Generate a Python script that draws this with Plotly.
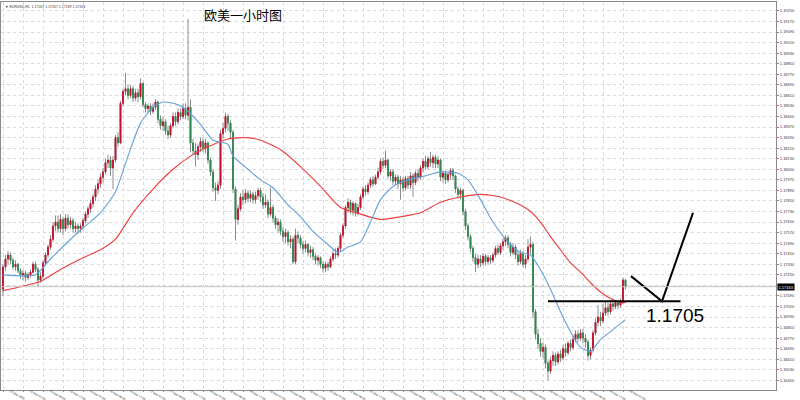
import plotly.graph_objects as go

# ---------------- data (EURUSD H1) ----------------
FIRST_OPEN = 1.1714
CLOSE = [
    1.1731,1.1737,1.1740,1.1736,1.1731,1.1733,1.1728,1.1725,1.1726,1.1723,1.1725,1.1727,1.1733,1.1729,1.1721,1.1724,
    1.1734,1.1740,1.1746,1.1752,1.1762,1.1765,
    1.1760,1.1767,1.1760,1.1768,1.1763,1.1766,1.1760,1.1762,1.1760,1.1762,1.1766,
    1.1771,1.1775,1.1779,1.1784,1.1790,1.1794,1.1799,1.1803,1.1810,1.1812,1.1806,1.1812,
    1.1829,1.1825,1.1855,1.1864,1.1866,
    1.1861,1.1866,1.1859,1.1863,1.1860,1.1870,
    1.1854,1.1851,1.1853,1.1849,1.1852,1.1856,1.1843,1.1838,
    1.1841,1.1834,1.1831,1.1838,1.1845,1.1841,1.1848,1.1845,1.1851,1.1846,
    1.1852,1.1825,1.1819,1.1816,1.1822,1.1826,1.1821,1.1825,
    1.1812,1.1803,1.1791,1.1789,1.1793,
    1.1832,1.1836,1.1845,1.1840,1.1833,
    1.1790,1.1767,1.1775,1.1784,1.1782,
    1.1787,1.1783,1.1786,1.1782,1.1785,1.1789,1.1784,
    1.1778,1.1780,
    1.1771,1.1776,1.1768,1.1763,1.1765,1.1758,
    1.1754,1.1757,1.1750,1.1752,1.1735,
    1.1755,1.1753,
    1.1748,1.1745,1.1748,1.1742,1.1744,1.1739,
    1.1736,1.1738,1.1733,1.1730,1.1733,1.1731,
    1.1737,1.1741,1.1740,1.1745,
    1.1755,1.1762,
    1.1776,1.1780,1.1774,
    1.1779,1.1772,1.1776,
    1.1784,1.1790,1.1788,1.1793,
    1.1797,1.1794,1.1799,
    1.1803,1.1811,1.1808,1.1812,
    1.1800,1.1803,1.1796,1.1799,
    1.1794,1.1797,1.1791,1.1798,1.1793,
    1.1800,1.1795,1.1802,1.1799,
    1.1806,1.1811,1.1807,1.1813,1.1810,1.1814,1.1809,1.1812,
    1.1799,1.1802,
    1.1797,1.1801,1.1804,1.1800,
    1.1790,1.1786,1.1789,
    1.1773,1.1762,1.1754,
    1.1745,1.1738,1.1733,1.1737,
    1.1734,1.1739,1.1735,1.1738,1.1736,1.1740,
    1.1745,1.1742,1.1747,1.1750,
    1.1753,1.1748,1.1742,1.1746,
    1.1740,1.1735,1.1741,1.1733,1.1737,
    1.1746,1.1748,
    1.1697,
    1.1680,1.1673,
    1.1667,1.1670,
    1.1658,1.1652,1.1660,
    1.1664,1.1659,1.1665,1.1662,
    1.1669,1.1666,1.1673,1.1670,
    1.1676,1.1680,1.1677,1.1681,
    1.1677,1.1674,1.1664,1.1668,
    1.1681,1.1689,
    1.1693,1.1690,1.1696,
    1.1700,1.1697,1.1703,
    1.1701,1.1704,1.1702,1.1705,
    1.1721,1.1716,
]
HIGH = [
    1.1733,1.1740,1.1743,1.1742,1.1738,1.1736,1.1734,1.1730,1.1729,1.1728,1.1727,1.1729,1.1735,1.1735,1.1731,1.1727,
    1.1736,1.1742,1.1748,1.1755,1.1765,1.1770,
    1.1770,1.1771,1.1769,1.1771,1.1771,1.1769,1.1768,1.1765,1.1764,1.1764,1.1768,
    1.1773,1.1777,1.1782,1.1786,1.1793,1.1797,1.1802,1.1806,1.1813,1.1816,1.1815,1.1815,
    1.1831,1.1833,1.1857,1.1866,1.1878,
    1.1869,1.1869,1.1868,1.1866,1.1866,1.1874,
    1.1871,1.1856,1.1855,1.1855,1.1855,1.1858,1.1857,1.1846,
    1.1845,1.1843,1.1838,1.1840,1.1848,1.1848,1.1851,1.1851,1.1855,1.1855,
    1.1919,1.1858,1.1828,1.1825,1.1824,1.1829,1.1829,1.1828,
    1.1826,1.1814,1.1805,1.1795,1.1796,
    1.1835,1.1840,1.1848,1.1847,1.1842,
    1.1835,1.1792,1.1778,1.1787,1.1789,
    1.1790,1.1789,1.1789,1.1788,1.1788,1.1791,1.1791,
    1.1787,1.1786,
    1.1782,1.1791,1.1778,1.1770,1.1768,1.1767,
    1.1761,1.1760,1.1759,1.1755,1.1754,
    1.1760,1.1758,
    1.1755,1.1751,1.1751,1.1749,1.1747,1.1746,
    1.1741,1.1740,1.1739,1.1735,1.1735,1.1735,
    1.1739,1.1744,1.1745,1.1747,
    1.1757,1.1764,
    1.1778,1.1783,1.1782,
    1.1781,1.1780,1.1779,
    1.1786,1.1792,1.1793,1.1795,
    1.1799,1.1800,1.1801,
    1.1806,1.1813,1.1814,1.1819,
    1.1813,1.1805,1.1805,1.1801,
    1.1801,1.1800,1.1799,1.1800,1.1800,
    1.1803,1.1802,1.1804,1.1805,
    1.1808,1.1813,1.1815,1.1815,1.1818,1.1816,1.1816,1.1815,
    1.1813,1.1804,
    1.1804,1.1803,1.1806,1.1806,
    1.1801,1.1792,1.1791,
    1.1790,1.1775,1.1764,
    1.1756,1.1747,1.1741,1.1740,
    1.1740,1.1741,1.1741,1.1740,1.1740,1.1742,
    1.1747,1.1748,1.1749,1.1753,
    1.1755,1.1755,1.1750,1.1749,
    1.1748,1.1743,1.1744,1.1743,1.1740,
    1.1752,1.1754,
    1.1750,
    1.1699,1.1684,
    1.1677,1.1674,
    1.1672,1.1660,1.1663,
    1.1667,1.1666,1.1667,1.1668,
    1.1672,1.1673,1.1675,1.1676,
    1.1679,1.1683,1.1683,1.1684,
    1.1684,1.1680,1.1676,1.1670,
    1.1683,1.1692,
    1.1702,1.1697,1.1703,
    1.1705,1.1704,1.1706,
    1.1707,1.1706,1.1706,1.1707,
    1.1723,1.1722,
]
LOW = [
    1.1709,1.1728,1.1733,1.1733,1.1729,1.1728,1.1726,1.1722,1.1721,1.1720,1.1721,1.1723,1.1726,1.1727,1.1716,1.1719,
    1.1722,1.1732,1.1738,1.1744,1.1750,1.1758,
    1.1757,1.1757,1.1755,1.1758,1.1760,1.1760,1.1757,1.1757,1.1756,1.1757,1.1759,
    1.1764,1.1768,1.1772,1.1776,1.1781,1.1786,1.1791,1.1795,1.1801,1.1806,1.1800,1.1790,
    1.1810,1.1822,1.1824,1.1853,1.1861,
    1.1858,1.1859,1.1856,1.1857,1.1856,1.1858,
    1.1852,1.1848,1.1848,1.1846,1.1847,1.1850,1.1840,1.1835,
    1.1834,1.1831,1.1828,1.1829,1.1836,1.1838,1.1839,1.1842,1.1843,1.1843,
    1.1842,1.1818,1.1816,1.1807,1.1812,1.1818,1.1818,1.1817,
    1.1809,1.1800,1.1788,1.1781,1.1786,
    1.1790,1.1828,1.1833,1.1834,1.1828,
    1.1787,1.1751,1.1763,1.1773,1.1778,
    1.1779,1.1780,1.1780,1.1779,1.1779,1.1782,1.1780,
    1.1775,1.1776,
    1.1768,1.1769,1.1765,1.1760,1.1757,1.1755,
    1.1750,1.1749,1.1747,1.1745,1.1733,
    1.1733,1.1749,
    1.1745,1.1741,1.1742,1.1739,1.1738,1.1736,
    1.1733,1.1732,1.1730,1.1727,1.1727,1.1728,
    1.1730,1.1735,1.1737,1.1738,
    1.1743,1.1753,
    1.1760,1.1772,1.1771,
    1.1770,1.1769,1.1770,
    1.1774,1.1782,1.1785,1.1786,
    1.1791,1.1792,1.1793,
    1.1797,1.1801,1.1805,1.1806,
    1.1798,1.1796,1.1793,1.1793,
    1.1790,1.1782,1.1788,1.1789,1.1790,
    1.1790,1.1784,1.1793,1.1796,
    1.1797,1.1803,1.1805,1.1805,1.1807,1.1806,1.1806,1.1806,
    1.1796,1.1795,
    1.1794,1.1795,1.1797,1.1797,
    1.1787,1.1783,1.1782,
    1.1770,1.1759,1.1751,
    1.1742,1.1735,1.1727,1.1730,
    1.1731,1.1732,1.1732,1.1733,1.1733,1.1734,
    1.1738,1.1740,1.1740,1.1744,
    1.1747,1.1745,1.1739,1.1740,
    1.1737,1.1732,1.1733,1.1731,1.1730,
    1.1735,1.1741,
    1.1692,
    1.1676,1.1669,
    1.1663,1.1662,
    1.1654,1.1645,1.1650,
    1.1656,1.1656,1.1657,1.1659,
    1.1660,1.1663,1.1664,1.1667,
    1.1668,1.1674,1.1674,1.1675,
    1.1673,1.1670,1.1660,1.1661,
    1.1666,1.1679,
    1.1686,1.1686,1.1688,
    1.1694,1.1694,1.1695,
    1.1698,1.1699,1.1699,1.1700,
    1.1703,1.1714,
]
# each bar opens where the previous one closed
OPEN = [FIRST_OPEN] + CLOSE[:-1]

# moving averages read at anchor bars
MA_FAST_BARS = [0,13,19,31,39,45,50,55,60,64,70,74,79,84,90,92,98,103,108,114,119,124,130,134,138,143,147,151,156,162,167,175,182,186,191,196,202,207,211,215,219,223,227,231,235,239,243,249]
MA_FAST = [1.1725,1.1725,1.1737,1.1759,1.1772,1.1788,1.1815,1.1840,1.1852,1.1856,1.1854,1.1849,1.1839,1.1827,1.1824,1.1815,1.1805,1.1797,1.1791,1.1778,1.1769,1.1758,1.1748,1.1742,1.1746,1.1750,1.1765,1.1782,1.1792,1.1797,1.1799,1.1803,1.1802,1.1797,1.1782,1.1765,1.1750,1.1742,1.1740,1.1729,1.1714,1.1697,1.1682,1.1670,1.1667,1.1676,1.1682,1.1691]
MA_SLOW_BARS = [0,7,15,23,31,39,45,52,60,68,75,82,90,98,103,111,119,127,135,143,151,159,167,175,183,191,199,207,211,215,219,223,227,231,235,239,243,247,249]
MA_SLOW = [1.1713,1.1716,1.1720,1.1729,1.1737,1.1744,1.1752,1.1772,1.1790,1.1805,1.1815,1.1822,1.1828,1.1829,1.1827,1.1820,1.1807,1.1792,1.1776,1.1771,1.1767,1.1769,1.1772,1.1780,1.1784,1.1786,1.1784,1.1778,1.1773,1.1765,1.1754,1.1744,1.1734,1.1727,1.1719,1.1712,1.1707,1.1704,1.1704]

TICK_BARS = [0,8,16,24,32,40,48,56,64,72,80,88,96,104,112,120,128,136,144,152,160,168,176,184,192,200,208,216,224,232,240,248]
TICK_TEXT = ["12 Sep 2025","15 Sep 01:00","15 Sep 09:00","15 Sep 17:00","16 Sep 01:00","16 Sep 09:00","16 Sep 17:00",
             "17 Sep 01:00","17 Sep 09:00","17 Sep 17:00","18 Sep 01:00","18 Sep 09:00","18 Sep 17:00",
             "19 Sep 01:00","19 Sep 09:00","19 Sep 17:00","22 Sep 01:00","22 Sep 09:00","22 Sep 17:00",
             "23 Sep 01:00","23 Sep 09:00","23 Sep 17:00","24 Sep 01:00","24 Sep 09:00","24 Sep 17:00",
             "25 Sep 01:00","25 Sep 09:00","25 Sep 17:00","26 Sep 01:00","26 Sep 09:00","26 Sep 17:00","29 Sep 01:00"]

LEVEL = 1.1705
LEVEL_LABEL = "1.1705"
LEVEL_BARS = [218, 271]
PATH_BARS = [251.2, 263.6, 276.0]
PATH_PRICES = [1.1724, 1.1705, 1.1772]
TITLE = "欧美一小时图"
HEADER = "▼ EURUSD,H1  1.17207 1.17207 1.17139 1.17163"
LAST_PRICE_TEXT = "1.17163"

for name, arr in (("HIGH", HIGH), ("LOW", LOW)):
    if len(arr) != len(CLOSE):
        raise SystemExit(f"{name} has {len(arr)} values, CLOSE has {len(CLOSE)}")

BARS = list(range(len(CLOSE)))
UP = "#c8102e"
DOWN = "#2e8b4e"
WICK = "#8c8c8c"

body_hi = [max(o, c) for o, c in zip(OPEN, CLOSE)]
body_lo = [min(o, c) for o, c in zip(OPEN, CLOSE)]

fig = go.Figure()
# wicks
fig.add_trace(go.Candlestick(
    x=BARS, open=OPEN, high=HIGH, low=LOW, close=CLOSE,
    increasing=dict(line=dict(color=WICK, width=1), fillcolor=WICK),
    decreasing=dict(line=dict(color=WICK, width=1), fillcolor=WICK),
    whiskerwidth=0, hoverinfo="skip"))
# bodies
fig.add_trace(go.Candlestick(
    x=BARS, open=OPEN, high=body_hi, low=body_lo, close=CLOSE,
    increasing=dict(line=dict(color=UP, width=0.8), fillcolor=UP),
    decreasing=dict(line=dict(color=DOWN, width=0.8), fillcolor=DOWN),
    whiskerwidth=0))
fig.add_trace(go.Scatter(x=MA_SLOW_BARS, y=MA_SLOW, mode="lines",
                         line=dict(color="#f03a3a", width=1.1, shape="spline", smoothing=0.6)))
fig.add_trace(go.Scatter(x=MA_FAST_BARS, y=MA_FAST, mode="lines",
                         line=dict(color="#62a0dc", width=1.1, shape="spline", smoothing=0.6)))

# drawn analysis lines
fig.add_trace(go.Scatter(x=LEVEL_BARS, y=[LEVEL, LEVEL], mode="lines",
                         line=dict(color="black", width=2)))
fig.add_trace(go.Scatter(x=PATH_BARS, y=PATH_PRICES, mode="lines",
                         line=dict(color="black", width=2)))

# bid line
fig.add_hline(y=CLOSE[-1], line=dict(color="#c4c4c4", width=1))

fig.add_annotation(x=268.8, y=1.1694, text=LEVEL_LABEL, showarrow=False,
                   font=dict(family="Liberation Sans, Arial", size=19, color="black"))
fig.add_annotation(x=96, y=1.19225, text=TITLE, showarrow=False,
                   font=dict(family="Noto Sans CJK SC", size=13, color="black"))
fig.add_annotation(x=0.003, y=0.997, xref="paper", yref="paper", xanchor="left", yanchor="top",
                   text=HEADER, showarrow=False,
                   font=dict(family="Liberation Sans, Arial", size=3.5, color="#333"))
fig.add_annotation(x=1.0, xref="paper", y=CLOSE[-1], yref="y", xanchor="left", xshift=1,
                   text=LAST_PRICE_TEXT, showarrow=False, bgcolor="black", borderpad=0.5,
                   font=dict(family="Liberation Sans, Arial", size=4, color="white"))

fig.update_layout(
    width=800, height=400,
    margin=dict(l=1, r=24, t=2, b=10, autoexpand=False),
    plot_bgcolor="white", paper_bgcolor="white",
    showlegend=False, boxgap=0.45,
    xaxis=dict(range=[-0.8, 309.2], rangeslider=dict(visible=False), automargin=False,
               tickmode="array", tickvals=TICK_BARS, ticktext=TICK_TEXT,
               tickfont=dict(family="Liberation Sans, Arial", size=3, color="#333"),
               ticks="outside", ticklen=1, tickcolor="#888", ticklabelshift=7, ticklabelstandoff=-4,
               showgrid=True, gridcolor="#d9d9d9", griddash="dot", gridwidth=1,
               showline=True, linecolor="#8a8a8a", linewidth=1, mirror=True, zeroline=False),
    yaxis=dict(range=[1.16377, 1.19318], side="right", automargin=False,
               tick0=1.1925, dtick=0.0008, tickformat=".5f",
               tickfont=dict(family="Liberation Sans, Arial", size=4, color="#333"),
               ticks="outside", ticklen=2, tickcolor="#888",
               showgrid=True, gridcolor="#d9d9d9", griddash="dot", gridwidth=1,
               showline=True, linecolor="#8a8a8a", linewidth=1, mirror=True, zeroline=False),
)

fig.write_html("out.html", config={"displayModeBar": False},
               post_script="document.body.style.margin='0';document.body.style.padding='0';")
